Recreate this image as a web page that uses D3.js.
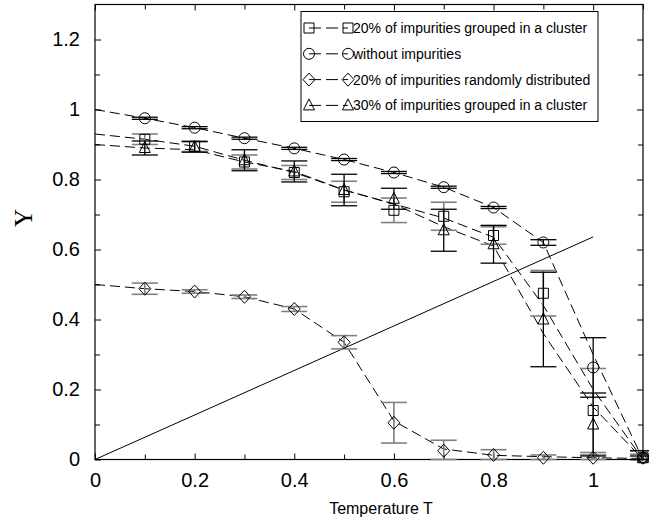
<!DOCTYPE html>
<html>
<head>
<meta charset="utf-8">
<script src="https://cdn.jsdelivr.net/npm/d3@7"></script>
<style>
  body { margin: 0; background: #fff; }
  text { font-family: "Liberation Sans", Arial, sans-serif; }
</style>
</head>
<body>
<div id="chart"></div>
<script>
const width = 649;
const height = 529;

// measured temperatures
const temps = [0.1, 0.2, 0.3, 0.4, 0.5, 0.6, 0.7, 0.8, 0.9, 1.0, 1.1];

const circleY   = [0.975, 0.948, 0.918, 0.889, 0.857, 0.820, 0.778, 0.720, 0.620, 0.263, 0.005];
const circleErr = [0.003, 0.003, 0.003, 0.003, 0.003, 0.003, 0.003, 0.003, 0.008, 0.085, 0.005];

const squareY   = [0.915, 0.895, 0.850, 0.820, 0.765, 0.712, 0.695, 0.640, 0.475, 0.140, 0.005];
const squareErr = [0.015, 0.015, 0.020, 0.020, 0.030, 0.035, 0.040, 0.025, 0.065, 0.120, 0.020];

const diamondY   = [0.488, 0.480, 0.465, 0.430, 0.335, 0.105, 0.025, 0.013, 0.005, 0.005, 0.005];
const diamondErr = [0.016, 0.005, 0.005, 0.007, 0.019, 0.058, 0.030, 0.015, 0.008, 0.008, 0.010];

const triangleY   = [0.890, 0.893, 0.855, 0.823, 0.770, 0.745, 0.655, 0.615, 0.400, 0.100, 0.005];
const triangleErr = [0.020, 0.015, 0.030, 0.030, 0.045, 0.030, 0.060, 0.054, 0.135, 0.090, 0.020];

// dashed guide curves
const fitT        = [0, 0.1, 0.2, 0.3, 0.4, 0.5, 0.6, 0.7, 0.8, 0.9, 1.0, 1.1];
const circleFit   = [1.00, 0.975, 0.948, 0.918, 0.889, 0.857, 0.820, 0.778, 0.720, 0.620, 0.300, 0.000];
const squareFit   = [0.93, 0.915, 0.895, 0.855, 0.820, 0.770, 0.730, 0.690, 0.635, 0.440, 0.200, 0.000];
const triangleFit = [0.90, 0.890, 0.885, 0.850, 0.823, 0.770, 0.730, 0.665, 0.610, 0.360, 0.150, 0.000];
const diamondFit  = [0.50, 0.488, 0.480, 0.465, 0.430, 0.335, 0.110, 0.030, 0.012, 0.008, 0.005, 0.003];

// solid straight line
const lineT = [0, 1.0];
const lineY = [0, 0.636];

const xMajor = [0, 0.2, 0.4, 0.6, 0.8, 1.0];
const xMinor = [0.1, 0.3, 0.5, 0.7, 0.9, 1.1];
const xLabels = ["0", "0.2", "0.4", "0.6", "0.8", "1"];
const yMajor = [0, 0.2, 0.4, 0.6, 0.8, 1.0, 1.2];
const yMinor = [0.1, 0.3, 0.5, 0.7, 0.9, 1.1];
const yLabels = ["0", "0.2", "0.4", "0.6", "0.8", "1", "1.2"];

const legendNames = [
  "20%  of impurities grouped in a cluster",
  "without impurities",
  "20% of impurities randomly distributed",
  "30% of impurities grouped in a cluster"
];

const plotLeft = 95, plotRight = 643, plotTop = 4.5, plotBottom = 459.5;

const x = d3.scaleLinear().domain([0, 1.1]).range([plotLeft, plotRight]);
const y = d3.scaleLinear().domain([0, 1.3]).range([plotBottom, plotTop]);

const svg = d3.select("#chart")
    .append("svg")
    .attr("width", width)
    .attr("height", height);

// shapes
const shapes = {
  square: "M-5,-5H5V5H-5Z",
  circle: d3.symbol(d3.symbolCircle, 95)(),
  diamond: "M0,-6.5L6,0L0,6.5L-6,0Z",
  triangle: "M0,-6.5L5.5,4.5H-5.5Z"
};

const series = [
  { name: legendNames[0], shape: "square", ys: squareY, err: squareErr, fit: squareFit, errColor: "#808080", errW: 1.6 },
  { name: legendNames[1], shape: "circle", ys: circleY, err: circleErr, fit: circleFit, errColor: "#000", errW: 1.3 },
  { name: legendNames[2], shape: "diamond", ys: diamondY, err: diamondErr, fit: diamondFit, errColor: "#808080", errW: 1.6 },
  { name: legendNames[3], shape: "triangle", ys: triangleY, err: triangleErr, fit: triangleFit, errColor: "#000", errW: 1.3 }
];

// axes (ticks point inward on every side)
function tickAxis(axisFn, scale, values, size, labels, pad) {
  const ax = axisFn(scale).tickValues(values).tickSizeInner(size).tickSizeOuter(0).tickPadding(pad);
  ax.tickFormat(labels ? (d, i) => labels[i] : () => "");
  return ax;
}

const gx = svg.append("g").attr("transform", `translate(0,${plotBottom})`);
gx.call(tickAxis(d3.axisBottom, x, xMajor, -6, xLabels, 13));
gx.append("g").call(tickAxis(d3.axisBottom, x, xMinor, -5, null, 0));

const gxt = svg.append("g").attr("transform", `translate(0,${plotTop})`);
gxt.call(tickAxis(d3.axisTop, x, xMajor, -6, null, 0));
gxt.append("g").call(tickAxis(d3.axisTop, x, xMinor, -5, null, 0));

const gy = svg.append("g").attr("transform", `translate(${plotLeft},0)`);
gy.call(tickAxis(d3.axisLeft, y, yMajor, -6, yLabels, 15));
gy.append("g").call(tickAxis(d3.axisLeft, y, yMinor, -5, null, 0));

const gyr = svg.append("g").attr("transform", `translate(${plotRight},0)`);
gyr.call(tickAxis(d3.axisRight, y, yMajor, -6, null, 0));
gyr.append("g").call(tickAxis(d3.axisRight, y, yMinor, -5, null, 0));

svg.selectAll(".domain").remove();
svg.selectAll(".tick line").attr("stroke", "#000").attr("stroke-width", 1);
svg.selectAll(".tick text")
    .style("font-family", "'Liberation Sans', Arial, sans-serif")
    .style("font-size", "20px")
    .attr("fill", "#000");

svg.append("rect")
    .attr("x", plotLeft).attr("y", plotTop)
    .attr("width", plotRight - plotLeft).attr("height", plotBottom - plotTop)
    .attr("fill", "none").attr("stroke", "#000").attr("stroke-width", 1.2);

// straight solid line
svg.append("path")
    .datum(lineT.map((t, i) => [t, lineY[i]]))
    .attr("d", d3.line().x(d => x(d[0])).y(d => y(d[1])))
    .attr("fill", "none").attr("stroke", "#000").attr("stroke-width", 1);

// dashed curves
const dashLine = d3.line().x(d => x(d[0])).y(d => y(d[1]));
series.forEach(s => {
  svg.append("path")
      .datum(fitT.map((t, i) => [t, s.fit[i]]))
      .attr("d", dashLine)
      .attr("fill", "none").attr("stroke", "#000").attr("stroke-width", 1)
      .attr("stroke-dasharray", "10,5");
});

// error bars
series.forEach(s => {
  const g = svg.append("g")
      .attr("stroke", s.errColor).attr("stroke-width", s.errW).attr("fill", "none");
  temps.forEach((t, i) => {
    const lo = Math.max(0, s.ys[i] - s.err[i]);
    const hi = s.ys[i] + s.err[i];
    const cx = x(t);
    g.append("line").attr("x1", cx).attr("x2", cx).attr("y1", y(lo)).attr("y2", y(hi));
    g.append("line").attr("x1", cx - 13).attr("x2", cx + 13).attr("y1", y(lo)).attr("y2", y(lo));
    g.append("line").attr("x1", cx - 13).attr("x2", cx + 13).attr("y1", y(hi)).attr("y2", y(hi));
  });
});

// markers
series.forEach(s => {
  svg.append("g").selectAll("path")
      .data(temps.map((t, i) => [t, s.ys[i]]))
      .enter()
      .append("path")
      .attr("d", shapes[s.shape])
      .attr("transform", d => `translate(${x(d[0])},${y(d[1])})`)
      .attr("fill", "none").attr("stroke", "#000").attr("stroke-width", 1);
});

// legend
const legend = svg.append("g");
legend.append("rect")
    .attr("x", 301).attr("y", 11.5).attr("width", 297).attr("height", 110)
    .attr("fill", "#fff").attr("stroke", "#000").attr("stroke-width", 1);

series.forEach((s, i) => {
  const ly = 28 + i * 25.8;
  legend.append("line")
      .attr("x1", 309).attr("x2", 348).attr("y1", ly).attr("y2", ly)
      .attr("stroke", "#000").attr("stroke-width", 1).attr("stroke-dasharray", "12,5");
  [309, 348].forEach(mx => {
    legend.append("path")
        .attr("d", shapes[s.shape])
        .attr("transform", `translate(${mx},${ly})`)
        .attr("fill", "none").attr("stroke", "#000").attr("stroke-width", 1);
  });
  legend.append("text")
      .attr("x", 353).attr("y", ly + 5)
      .style("font-size", "14px")
      .text(s.name);
});

// axis titles
svg.append("text")
    .attr("x", 381).attr("y", 514)
    .attr("text-anchor", "middle")
    .style("font-size", "16px")
    .text("Temperature  T");

svg.append("text")
    .attr("transform", "translate(32,218) rotate(-90)")
    .attr("text-anchor", "middle")
    .style("font-family", "'Liberation Serif', 'Times New Roman', serif")
    .style("font-size", "25px")
    .text("Y");
</script>
</body>
</html>
